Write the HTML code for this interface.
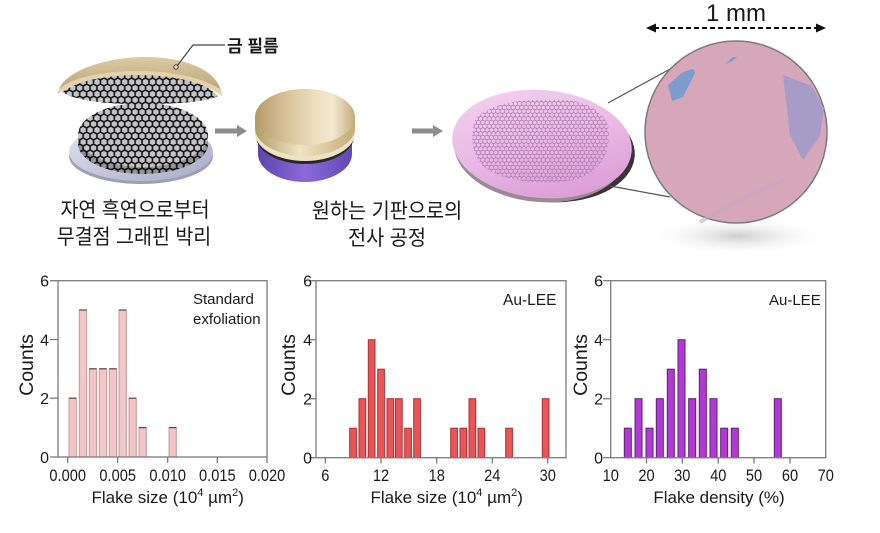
<!DOCTYPE html>
<html><head><meta charset="utf-8"><style>
html,body{margin:0;padding:0;background:#fff;}
body{width:880px;height:533px;overflow:hidden;}
svg{display:block;}
.t{font-family:"Liberation Sans",Arial,sans-serif;fill:#1a1a1a;}
.k{font-family:"Liberation Sans","Noto Sans CJK KR",sans-serif;fill:#1a1a1a;}
</style></head><body>
<svg width="880" height="533" viewBox="0 0 880 533" xmlns="http://www.w3.org/2000/svg">
<defs>
  <pattern id="hex" width="6.93" height="12" patternUnits="userSpaceOnUse">
    <rect width="6.93" height="12" fill="#c4c4c8"/>
    <path d="M3.465,0 L6.93,2 L6.93,6 L3.465,8 L0,6 L0,2 Z M3.465,8 L3.465,12" fill="none" stroke="#161616" stroke-width="1.6"/>
  </pattern>
  <pattern id="hexd" width="6.93" height="12" patternUnits="userSpaceOnUse">
    <rect width="6.93" height="12" fill="#94949a"/>
    <path d="M3.465,0 L6.93,2 L6.93,6 L3.465,8 L0,6 L0,2 Z M3.465,8 L3.465,12" fill="none" stroke="#0e0e0e" stroke-width="1.7"/>
  </pattern>
  <pattern id="hexp" width="4.33" height="7.5" patternUnits="userSpaceOnUse">
    <path d="M2.165,0 L4.33,1.25 L4.33,3.75 L2.165,5 L0,3.75 L0,1.25 Z M2.165,5 L2.165,7.5" fill="none" stroke="#b27cb2" stroke-width="0.8"/>
  </pattern>
  <linearGradient id="gTop" x1="0" y1="0" x2="1" y2="0">
    <stop offset="0" stop-color="#b49a6a"/>
    <stop offset="0.3" stop-color="#d6c196"/>
    <stop offset="0.6" stop-color="#ecdfc0"/>
    <stop offset="0.78" stop-color="#f2e8cf"/>
    <stop offset="1" stop-color="#c4ab7b"/>
  </linearGradient>
  <linearGradient id="gSide" x1="0" y1="0" x2="1" y2="0">
    <stop offset="0" stop-color="#b29a68"/>
    <stop offset="0.45" stop-color="#f0e4c2"/>
    <stop offset="1" stop-color="#c4ab78"/>
  </linearGradient>
  <linearGradient id="gCap" x1="0" y1="0" x2="0" y2="1">
    <stop offset="0" stop-color="#dccaa4"/>
    <stop offset="1" stop-color="#b89e70"/>
  </linearGradient>
  <linearGradient id="gPur" x1="0" y1="0" x2="1" y2="0">
    <stop offset="0" stop-color="#5e44ac"/>
    <stop offset="0.5" stop-color="#8a6ad8"/>
    <stop offset="1" stop-color="#6248b4"/>
  </linearGradient>
  <linearGradient id="gBase" x1="0" y1="0" x2="1" y2="1">
    <stop offset="0" stop-color="#e4e5ee"/>
    <stop offset="1" stop-color="#a9abc6"/>
  </linearGradient>
  <linearGradient id="gWafer" x1="0" y1="0" x2="0.6" y2="1">
    <stop offset="0" stop-color="#f3d4f1"/>
    <stop offset="0.6" stop-color="#e8b8e4"/>
    <stop offset="1" stop-color="#dc9fd6"/>
  </linearGradient>
  <radialGradient id="gShadow" cx="0.5" cy="0.5" r="0.5">
    <stop offset="0" stop-color="#cdcdcd"/>
    <stop offset="1" stop-color="#ffffff" stop-opacity="0"/>
  </radialGradient>
  <clipPath id="waferClip"><path d="M476,118 C490,104 520,99 545,100 C575,98 598,104 608,125 C612,150 602,172 575,180 C545,186 505,182 485,168 C470,155 470,132 476,118 Z"/></clipPath>
</defs>

<!-- ===== Illustration 1 : gold film + graphene ===== -->
<ellipse cx="141" cy="156" rx="72" ry="28" fill="#9d9fb8"/>
<ellipse cx="141" cy="152" rx="72" ry="29" fill="url(#gBase)"/>
<ellipse cx="143" cy="144" rx="65" ry="30" fill="url(#hexd)"/>
<ellipse cx="143" cy="135" rx="65" ry="32" fill="url(#hex)"/>
<!-- underside graphene of cap -->
<path d="M62,92 C80,80 110,73 140,73 C175,73 205,82 218,96 C205,102 180,104 140,104 C100,104 75,100 62,92 Z" fill="url(#hex)"/>
<!-- gold cap -->
<path d="M58,94 C60,72 105,57 145,57 C185,57 220,70 222,96 C205,82 172,75 140,75 C105,75 75,81 58,94 Z" fill="url(#gCap)"/>
<path d="M58,94 C75,81 105,75 140,75 C172,75 205,82 222,96 L221,90 C205,78 172,71 140,71 C105,71 72,77 59,89 Z" fill="#e3d2ac"/>
<!-- leader for 금 필름 -->
<polyline points="225,45 193,45 177,66" fill="none" stroke="#444" stroke-width="1.2"/>
<circle cx="176" cy="67" r="2.2" fill="#e8d8b8" stroke="#444" stroke-width="1"/>
<text class="k" x="227" y="52" font-size="17" font-weight="bold">금 필름</text>

<!-- arrow 1 -->
<rect x="215" y="128.5" width="23" height="5" fill="#8c8c8c"/>
<polygon points="237,125 247,131 237,137" fill="#8c8c8c"/>

<text class="k" font-size="21" text-anchor="middle" transform="translate(135,217) scale(0.93,1)">자연 흑연으로부터</text>
<text class="k" font-size="21" text-anchor="middle" transform="translate(134,244) scale(0.93,1)">무결점 그래핀 박리</text>

<!-- ===== Illustration 2 : gold on substrate ===== -->
<ellipse cx="305" cy="154" rx="47" ry="28" fill="url(#gPur)"/>
<rect x="258" y="128" width="94" height="26" fill="url(#gPur)"/>
<ellipse cx="305" cy="136" rx="49" ry="28" fill="#2a2628"/>
<ellipse cx="305" cy="133" rx="50" ry="28" fill="#ece2c4"/>
<ellipse cx="305" cy="128" rx="50" ry="28" fill="url(#gSide)"/>
<rect x="255" y="117" width="100" height="11" fill="url(#gSide)"/>
<ellipse cx="305" cy="117" rx="50" ry="28" fill="url(#gTop)"/>

<!-- arrow 2 -->
<rect x="412" y="128.5" width="22" height="5" fill="#8c8c8c"/>
<polygon points="433,125 443,131 433,137" fill="#8c8c8c"/>

<text class="k" font-size="21" text-anchor="middle" transform="translate(387,218) scale(0.94,1)">원하는 기판으로의</text>
<text class="k" font-size="21" text-anchor="middle" transform="translate(387,245) scale(0.94,1)">전사 공정</text>

<!-- ===== Illustration 3 : pink wafer ===== -->
<ellipse cx="546" cy="149" rx="89" ry="53" transform="rotate(5 546 149)" fill="#3a3438"/>
<ellipse cx="540" cy="150" rx="86" ry="52" transform="rotate(5 540 150)" fill="#9a8a96"/>
<ellipse cx="542" cy="144" rx="90" ry="54" transform="rotate(5 542 144)" fill="url(#gWafer)"/>
<rect x="465" y="95" width="150" height="92" fill="url(#hexp)" clip-path="url(#waferClip)"/>

<!-- leader lines -->
<line x1="608" y1="103" x2="672" y2="68" stroke="#555" stroke-width="1.2"/>
<line x1="610" y1="186" x2="670" y2="197" stroke="#555" stroke-width="1.2"/>

<!-- big circle -->
<ellipse cx="738" cy="236" rx="95" ry="20" fill="url(#gShadow)"/>
<circle cx="736" cy="132" r="91" fill="#d5a7b8" stroke="#7a7a7a" stroke-width="1.5"/>
<polygon points="668,85 672,101 683,97 695,73 693,69 683,72" fill="#7b9ccc"/>
<polygon points="725,64 731,62 737,57 733,57" fill="#7b9ccc"/>
<polygon points="783,75 790,135 803,160 820,136 824,108 812,86" fill="#a79cc8"/>
<path d="M700,222 C730,205 760,190 785,180" stroke="#c4a8c4" stroke-width="4" fill="none" opacity="0.6"/>

<!-- 1 mm -->
<text class="t" x="736" y="21" font-size="24" text-anchor="middle">1 mm</text>
<line x1="654" y1="28" x2="818" y2="28" stroke="#111" stroke-width="2" stroke-dasharray="5,3"/>
<polygon points="646,28 656,23.5 656,32.5" fill="#111"/>
<polygon points="826,28 816,23.5 816,32.5" fill="#111"/>

<!-- ===== Chart 1 ===== -->
<g>
  <g stroke="#c29b9d" stroke-width="1" fill="#f2c5c7">
    <rect x="69" y="398.2" width="7.3" height="58.8"/>
    <rect x="79.3" y="310" width="7.3" height="147"/>
    <rect x="89.3" y="368.8" width="7.3" height="88.2"/>
    <rect x="99.3" y="368.8" width="7.3" height="88.2"/>
    <rect x="109.3" y="368.8" width="7.3" height="88.2"/>
    <rect x="119" y="310" width="7.3" height="147"/>
    <rect x="129" y="398.2" width="7.3" height="58.8"/>
    <rect x="139" y="427.6" width="7.3" height="29.4"/>
    <rect x="169" y="427.6" width="7.3" height="29.4"/>
  </g>
  <g stroke="#5a4848" stroke-width="1.2">
    <line x1="69" y1="398.2" x2="76.3" y2="398.2"/>
    <line x1="79.3" y1="310" x2="86.6" y2="310"/>
    <line x1="89.3" y1="368.8" x2="96.6" y2="368.8"/>
    <line x1="99.3" y1="368.8" x2="106.6" y2="368.8"/>
    <line x1="109.3" y1="368.8" x2="116.6" y2="368.8"/>
    <line x1="119" y1="310" x2="126.3" y2="310"/>
    <line x1="129" y1="398.2" x2="136.3" y2="398.2"/>
    <line x1="139" y1="427.6" x2="146.3" y2="427.6"/>
    <line x1="169" y1="427.6" x2="176.3" y2="427.6"/>
  </g>
  <g stroke="#7b7b7b" stroke-width="1.3" fill="none">
    <rect x="58" y="280.7" width="209" height="176.3"/>
    <line x1="50" y1="280.7" x2="58" y2="280.7"/>
    <line x1="50" y1="339.5" x2="58" y2="339.5"/>
    <line x1="50" y1="398.2" x2="58" y2="398.2"/>
    <line x1="50" y1="457" x2="58" y2="457"/>
    <line x1="67.7" y1="457" x2="67.7" y2="463"/>
    <line x1="117.7" y1="457" x2="117.7" y2="463"/>
    <line x1="167.7" y1="457" x2="167.7" y2="463"/>
    <line x1="217.3" y1="457" x2="217.3" y2="463"/>
    <line x1="267" y1="457" x2="267" y2="463"/>
  </g>
  <g class="t" font-size="16" text-anchor="end">
    <text x="49" y="286.5">6</text><text x="49" y="345.3">4</text><text x="49" y="404">2</text><text x="49" y="462.8">0</text>
  </g>
  <g class="t" font-size="17" text-anchor="middle">
    <text transform="translate(67.7,481) scale(0.86,1)">0.000</text>
    <text transform="translate(117.7,481) scale(0.86,1)">0.005</text>
    <text transform="translate(167.7,481) scale(0.86,1)">0.010</text>
    <text transform="translate(217.3,481) scale(0.86,1)">0.015</text>
    <text transform="translate(267,481) scale(0.86,1)">0.020</text>
  </g>
  <text class="t" font-size="17" x="167.7" y="503" text-anchor="middle">Flake size (10<tspan font-size="11" dy="-7">4</tspan><tspan dy="7"> µm</tspan><tspan font-size="11" dy="-7">2</tspan><tspan dy="7">)</tspan></text>
  <text class="t" font-size="19.5" text-anchor="middle" transform="translate(33,365) rotate(-90)">Counts</text>
  <text class="t" font-size="15" x="193" y="304">Standard</text>
  <text class="t" font-size="15" x="193" y="324">exfoliation</text>
</g>

<!-- ===== Chart 2 ===== -->
<g>
  <g stroke="#a83236" stroke-width="1" fill="#ea5457">
    <rect x="349.7" y="428.2" width="6.7" height="29.5"/>
    <rect x="359" y="398.7" width="6.7" height="59"/>
    <rect x="368.3" y="339.7" width="6.7" height="118"/>
    <rect x="377.7" y="369.2" width="6.7" height="88.5"/>
    <rect x="387" y="398.7" width="6.7" height="59"/>
    <rect x="395.5" y="398.7" width="6.7" height="59"/>
    <rect x="404.7" y="428.2" width="6.7" height="29.5"/>
    <rect x="413.7" y="398.7" width="6.7" height="59"/>
    <rect x="450.7" y="428.2" width="6.7" height="29.5"/>
    <rect x="460" y="428.2" width="6.7" height="29.5"/>
    <rect x="469" y="398.7" width="6.7" height="59"/>
    <rect x="478" y="428.2" width="6.7" height="29.5"/>
    <rect x="505.7" y="428.2" width="6.7" height="29.5"/>
    <rect x="542.3" y="398.7" width="6.7" height="59"/>
  </g>
  <g stroke="#7b7b7b" stroke-width="1.3" fill="none">
    <rect x="316" y="280.7" width="250" height="177"/>
    <line x1="309" y1="280.7" x2="316" y2="280.7"/>
    <line x1="309" y1="339.7" x2="316" y2="339.7"/>
    <line x1="309" y1="398.7" x2="316" y2="398.7"/>
    <line x1="309" y1="457.7" x2="316" y2="457.7"/>
    <line x1="325.3" y1="457.7" x2="325.3" y2="463.5"/>
    <line x1="381" y1="457.7" x2="381" y2="463.5"/>
    <line x1="436.7" y1="457.7" x2="436.7" y2="463.5"/>
    <line x1="492.3" y1="457.7" x2="492.3" y2="463.5"/>
    <line x1="547.7" y1="457.7" x2="547.7" y2="463.5"/>
  </g>
  <g class="t" font-size="16" text-anchor="end">
    <text x="312" y="286.5">6</text><text x="312" y="345.5">4</text><text x="312" y="404.5">2</text><text x="312" y="463.5">0</text>
  </g>
  <g class="t" font-size="17" text-anchor="middle">
    <text transform="translate(325.3,481) scale(0.86,1)">6</text>
    <text transform="translate(381,481) scale(0.86,1)">12</text>
    <text transform="translate(436.7,481) scale(0.86,1)">18</text>
    <text transform="translate(492.3,481) scale(0.86,1)">24</text>
    <text transform="translate(547.7,481) scale(0.86,1)">30</text>
  </g>
  <text class="t" font-size="17" x="446.7" y="503" text-anchor="middle">Flake size (10<tspan font-size="11" dy="-7">4</tspan><tspan dy="7"> µm</tspan><tspan font-size="11" dy="-7">2</tspan><tspan dy="7">)</tspan></text>
  <text class="t" font-size="19.5" text-anchor="middle" transform="translate(295,365) rotate(-90)">Counts</text>
  <text class="t" font-size="15.5" x="503" y="305">Au-LEE</text>
</g>

<!-- ===== Chart 3 ===== -->
<g>
  <g stroke="#5e1c78" stroke-width="1" fill="#b23ad4">
    <rect x="624.3" y="428.2" width="7" height="29.5"/>
    <rect x="635" y="398.7" width="7" height="59"/>
    <rect x="646" y="428.2" width="7" height="29.5"/>
    <rect x="656.3" y="398.7" width="7" height="59"/>
    <rect x="667.3" y="369.2" width="7" height="88.5"/>
    <rect x="678" y="339.7" width="7" height="118"/>
    <rect x="688.7" y="398.7" width="7" height="59"/>
    <rect x="699.3" y="369.2" width="7" height="88.5"/>
    <rect x="710" y="398.7" width="7" height="59"/>
    <rect x="720.7" y="428.2" width="7" height="29.5"/>
    <rect x="731.3" y="428.2" width="7" height="29.5"/>
    <rect x="774.3" y="398.7" width="7" height="59"/>
  </g>
  <g stroke="#7b7b7b" stroke-width="1.3" fill="none">
    <rect x="610.7" y="280.7" width="215" height="177"/>
    <line x1="603" y1="280.7" x2="610.7" y2="280.7"/>
    <line x1="603" y1="339.7" x2="610.7" y2="339.7"/>
    <line x1="603" y1="398.7" x2="610.7" y2="398.7"/>
    <line x1="603" y1="457.7" x2="610.7" y2="457.7"/>
    <line x1="646.5" y1="457.7" x2="646.5" y2="463.5"/>
    <line x1="682.3" y1="457.7" x2="682.3" y2="463.5"/>
    <line x1="718.2" y1="457.7" x2="718.2" y2="463.5"/>
    <line x1="754" y1="457.7" x2="754" y2="463.5"/>
    <line x1="790" y1="457.7" x2="790" y2="463.5"/>
  </g>
  <g class="t" font-size="16" text-anchor="end">
    <text x="603" y="286.5">6</text><text x="603" y="345.5">4</text><text x="603" y="404.5">2</text><text x="603" y="463.5">0</text>
  </g>
  <g class="t" font-size="17" text-anchor="middle">
    <text transform="translate(610.7,481) scale(0.86,1)">10</text>
    <text transform="translate(646.5,481) scale(0.86,1)">20</text>
    <text transform="translate(682.3,481) scale(0.86,1)">30</text>
    <text transform="translate(718.2,481) scale(0.86,1)">40</text>
    <text transform="translate(754,481) scale(0.86,1)">50</text>
    <text transform="translate(790,481) scale(0.86,1)">60</text>
    <text transform="translate(825.7,481) scale(0.86,1)">70</text>
  </g>
  <text class="t" font-size="17" x="719" y="503" text-anchor="middle">Flake density (%)</text>
  <text class="t" font-size="19.5" text-anchor="middle" transform="translate(587,365) rotate(-90)">Counts</text>
  <text class="t" font-size="15" x="769" y="305">Au-LEE</text>
</g>
</svg>
</body></html>
